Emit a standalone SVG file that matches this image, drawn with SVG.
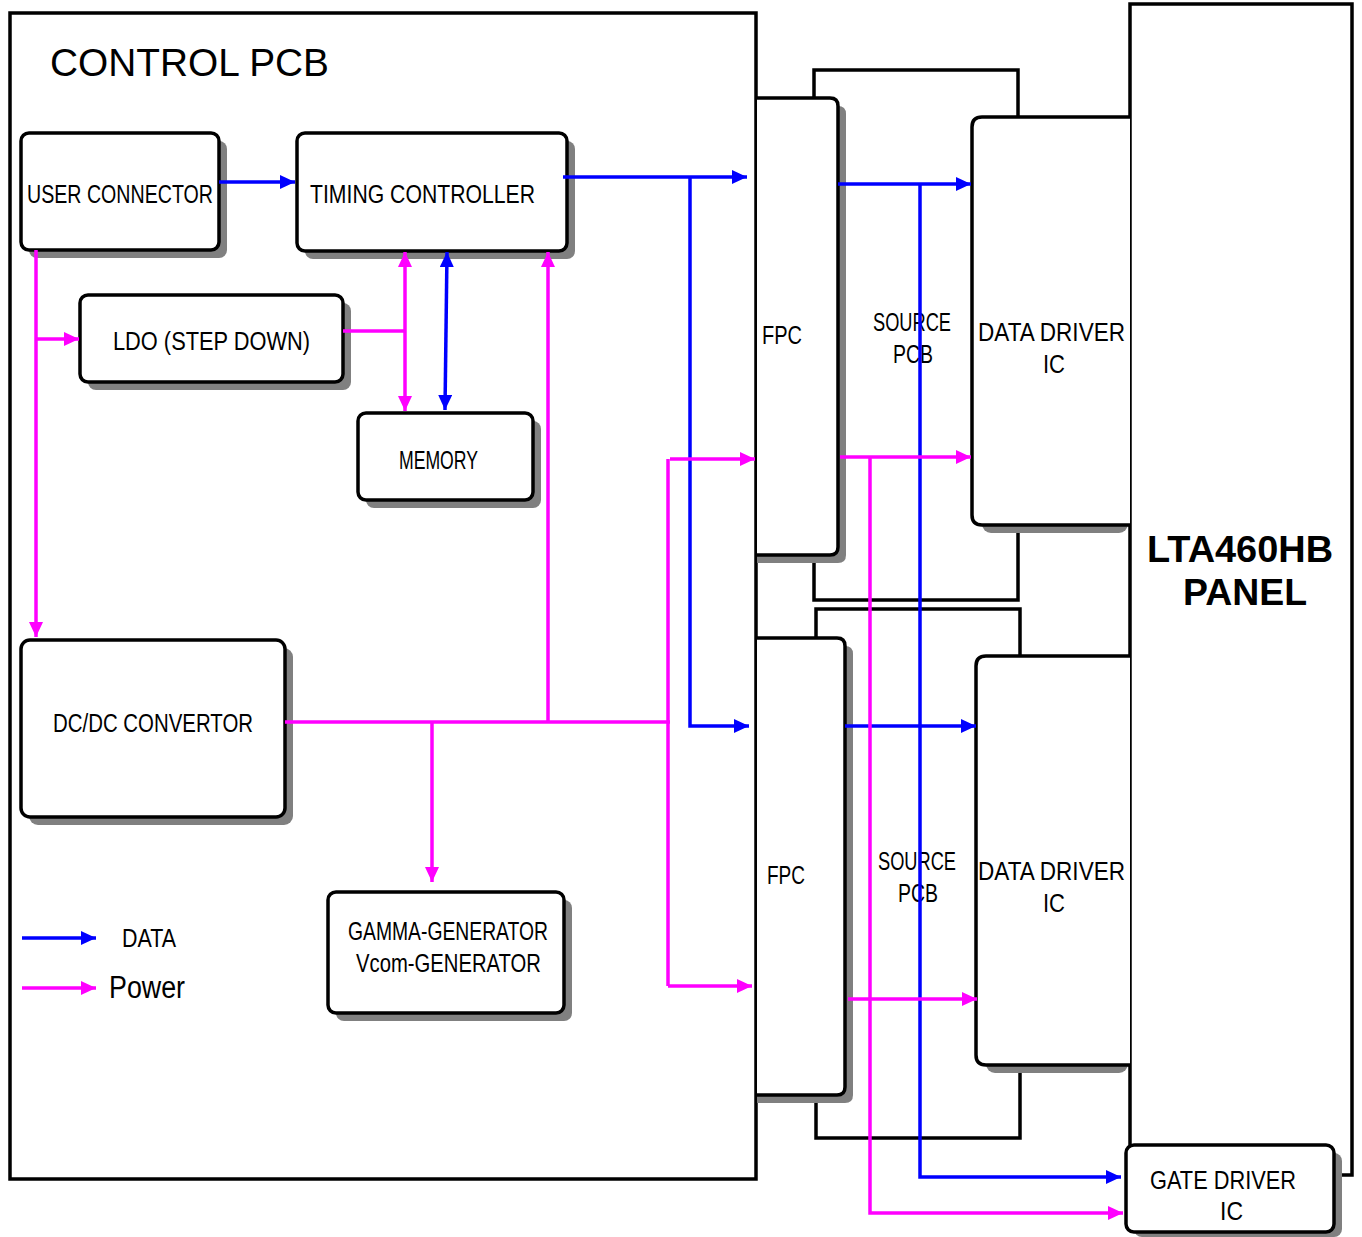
<svg xmlns="http://www.w3.org/2000/svg" width="1362" height="1237" viewBox="0 0 1362 1237">
<style>
.frame{fill:#fff;stroke:#000;stroke-width:3.5}
.box{fill:#fff;stroke:#000;stroke-width:3.5}
.sh{fill:#808080;stroke:none}
.t{font-family:"Liberation Sans",Arial,sans-serif;font-size:25px;fill:#000}
.b{stroke:#0000FF;stroke-width:3.5;fill:none}
.m{stroke:#FF00FF;stroke-width:3.5;fill:none}
</style>
<defs>
<marker id="ab" markerUnits="userSpaceOnUse" markerWidth="16" markerHeight="14" refX="15" refY="7" orient="auto-start-reverse"><path d="M0,0 L15,7 L0,14 z" fill="#0000FF"/></marker>
<marker id="am" markerUnits="userSpaceOnUse" markerWidth="16" markerHeight="14" refX="15" refY="7" orient="auto-start-reverse"><path d="M0,0 L15,7 L0,14 z" fill="#FF00FF"/></marker>
</defs>

<g id="control-pcb">
<rect class="frame" x="10" y="13" width="746" height="1166"/>
<text x="50" y="76" font-family="Liberation Sans, Arial, sans-serif" font-size="38" textLength="279" lengthAdjust="spacingAndGlyphs">CONTROL PCB</text>
</g>

<g id="source-pcb-top"><rect class="frame" x="814" y="70" width="204" height="530"/>
<text class="t" x="873" y="331" textLength="78" lengthAdjust="spacingAndGlyphs">SOURCE</text>
<text class="t" x="893" y="363" textLength="40" lengthAdjust="spacingAndGlyphs">PCB</text></g>
<g id="source-pcb-bottom"><rect class="frame" x="816" y="609" width="204" height="529"/>
<text class="t" x="878" y="870" textLength="78" lengthAdjust="spacingAndGlyphs">SOURCE</text>
<text class="t" x="898" y="902" textLength="40" lengthAdjust="spacingAndGlyphs">PCB</text></g>

<g id="panel"><rect class="frame" x="1130" y="4" width="222" height="1171"/>
<text x="1147" y="562" font-family="Liberation Sans, Arial, sans-serif" font-weight="bold" font-size="37" textLength="186" lengthAdjust="spacingAndGlyphs">LTA460HB</text>
<text x="1183" y="605" font-family="Liberation Sans, Arial, sans-serif" font-weight="bold" font-size="37" textLength="124" lengthAdjust="spacingAndGlyphs">PANEL</text></g>

<g id="fpc-top">
<path class="sh" d="M757,106 H838 Q846,106 846,114 V555 Q846,563 838,563 H757 z"/>
<path class="box" d="M757,98 H830 Q838,98 838,106 V547 Q838,555 830,555 H757"/>
<text class="t" x="762" y="344" textLength="40" lengthAdjust="spacingAndGlyphs">FPC</text>
</g>
<g id="fpc-bottom">
<path class="sh" d="M757,646 H845 Q853,646 853,654 V1095 Q853,1103 845,1103 H757 z"/>
<path class="box" d="M757,638 H837 Q845,638 845,646 V1087 Q845,1095 837,1095 H757"/>
<text class="t" x="767" y="884" textLength="38" lengthAdjust="spacingAndGlyphs">FPC</text>
</g>

<g id="data-driver-top">
<rect class="sh" x="982" y="125" width="146" height="408" rx="9"/>
<path class="box" d="M1130,117 H982 Q972,117 972,127 V515 Q972,525 982,525 H1130"/>
<text class="t" x="978" y="341" textLength="147" lengthAdjust="spacingAndGlyphs">DATA DRIVER</text>
<text class="t" x="1043" y="373" textLength="22" lengthAdjust="spacingAndGlyphs">IC</text>
</g>
<g id="data-driver-bottom">
<rect class="sh" x="986" y="664" width="142" height="409" rx="9"/>
<path class="box" d="M1130,656 H986 Q976,656 976,666 V1055 Q976,1065 986,1065 H1130"/>
<text class="t" x="978" y="880" textLength="147" lengthAdjust="spacingAndGlyphs">DATA DRIVER</text>
<text class="t" x="1043" y="912" textLength="22" lengthAdjust="spacingAndGlyphs">IC</text>
</g>

<g id="gate-driver">
<rect class="sh" x="1134" y="1153" width="208" height="84" rx="8"/>
<rect class="box" x="1126" y="1145" width="208" height="87" rx="8"/>
<text class="t" x="1150" y="1189" textLength="146" lengthAdjust="spacingAndGlyphs">GATE DRIVER</text>
<text class="t" x="1220" y="1220" textLength="23" lengthAdjust="spacingAndGlyphs">IC</text>
</g>

<g id="user-connector">
<rect class="sh" x="29" y="141" width="198" height="117" rx="8"/>
<rect class="box" x="21" y="133" width="198" height="117" rx="8"/>
<text class="t" x="27" y="203" textLength="186" lengthAdjust="spacingAndGlyphs">USER CONNECTOR</text>
</g>
<g id="timing-controller">
<rect class="sh" x="305" y="141" width="270" height="118" rx="8"/>
<rect class="box" x="297" y="133" width="270" height="118" rx="8"/>
<text class="t" x="310" y="203" textLength="225" lengthAdjust="spacingAndGlyphs">TIMING CONTROLLER</text>
</g>
<g id="ldo">
<rect class="sh" x="88" y="303" width="263" height="87" rx="8"/>
<rect class="box" x="80" y="295" width="263" height="87" rx="8"/>
<text class="t" x="113" y="350" textLength="197" lengthAdjust="spacingAndGlyphs">LDO (STEP DOWN)</text>
</g>
<g id="memory">
<rect class="sh" x="366" y="421" width="175" height="87" rx="8"/>
<rect class="box" x="358" y="413" width="175" height="87" rx="8"/>
<text class="t" x="399" y="469" textLength="79" lengthAdjust="spacingAndGlyphs">MEMORY</text>
</g>
<g id="dcdc">
<rect class="sh" x="29" y="648" width="264" height="177" rx="9"/>
<rect class="box" x="21" y="640" width="264" height="177" rx="9"/>
<text class="t" x="53" y="732" textLength="200" lengthAdjust="spacingAndGlyphs">DC/DC CONVERTOR</text>
</g>
<g id="gamma">
<rect class="sh" x="336" y="900" width="236" height="121" rx="8"/>
<rect class="box" x="328" y="892" width="236" height="121" rx="8"/>
<text class="t" x="348" y="940" textLength="200" lengthAdjust="spacingAndGlyphs">GAMMA-GENERATOR</text>
<text class="t" x="356" y="972" textLength="185" lengthAdjust="spacingAndGlyphs">Vcom-GENERATOR</text>
</g>

<g id="legend">
<text class="t" x="122" y="947" textLength="54" lengthAdjust="spacingAndGlyphs">DATA</text>
<text x="109" y="998" font-family="Liberation Sans, Arial, sans-serif" font-size="31" textLength="76" lengthAdjust="spacingAndGlyphs">Power</text>
</g>

<g id="connectors">
<path class="b" d="M219,182 H295" marker-end="url(#ab)"/>
<path class="b" d="M563,177 H747" marker-end="url(#ab)"/>
<path class="b" d="M690,177 V726 H749" marker-end="url(#ab)"/>
<path class="b" d="M447,252 L445,410" marker-start="url(#ab)" marker-end="url(#ab)"/>
<path class="b" d="M838,184 H971" marker-end="url(#ab)"/>
<path class="b" d="M920,184 V1177 H1121" marker-end="url(#ab)"/>
<path class="b" d="M845,726 H976" marker-end="url(#ab)"/>
<path class="b" d="M22,938 H96" marker-end="url(#ab)"/>

<path class="m" d="M36,250 V637" marker-end="url(#am)"/>
<path class="m" d="M36,339 H79" marker-end="url(#am)"/>
<path class="m" d="M343,331 H405"/>
<path class="m" d="M405,252 V411" marker-start="url(#am)" marker-end="url(#am)"/>
<path class="m" d="M548,722 V252" marker-end="url(#am)"/>
<path class="m" d="M285,722 H670"/>
<path class="m" d="M432,722 V882" marker-end="url(#am)"/>
<path class="m" d="M668,459 V986"/>
<path class="m" d="M670,459 H755" marker-end="url(#am)"/>
<path class="m" d="M668,986 H752" marker-end="url(#am)"/>
<path class="m" d="M840,457 H971" marker-end="url(#am)"/>
<path class="m" d="M870,457 V1213 H1123" marker-end="url(#am)"/>
<path class="m" d="M848,999 H977" marker-end="url(#am)"/>
<path class="m" d="M22,988 H96" marker-end="url(#am)"/>
</g>
</svg>
